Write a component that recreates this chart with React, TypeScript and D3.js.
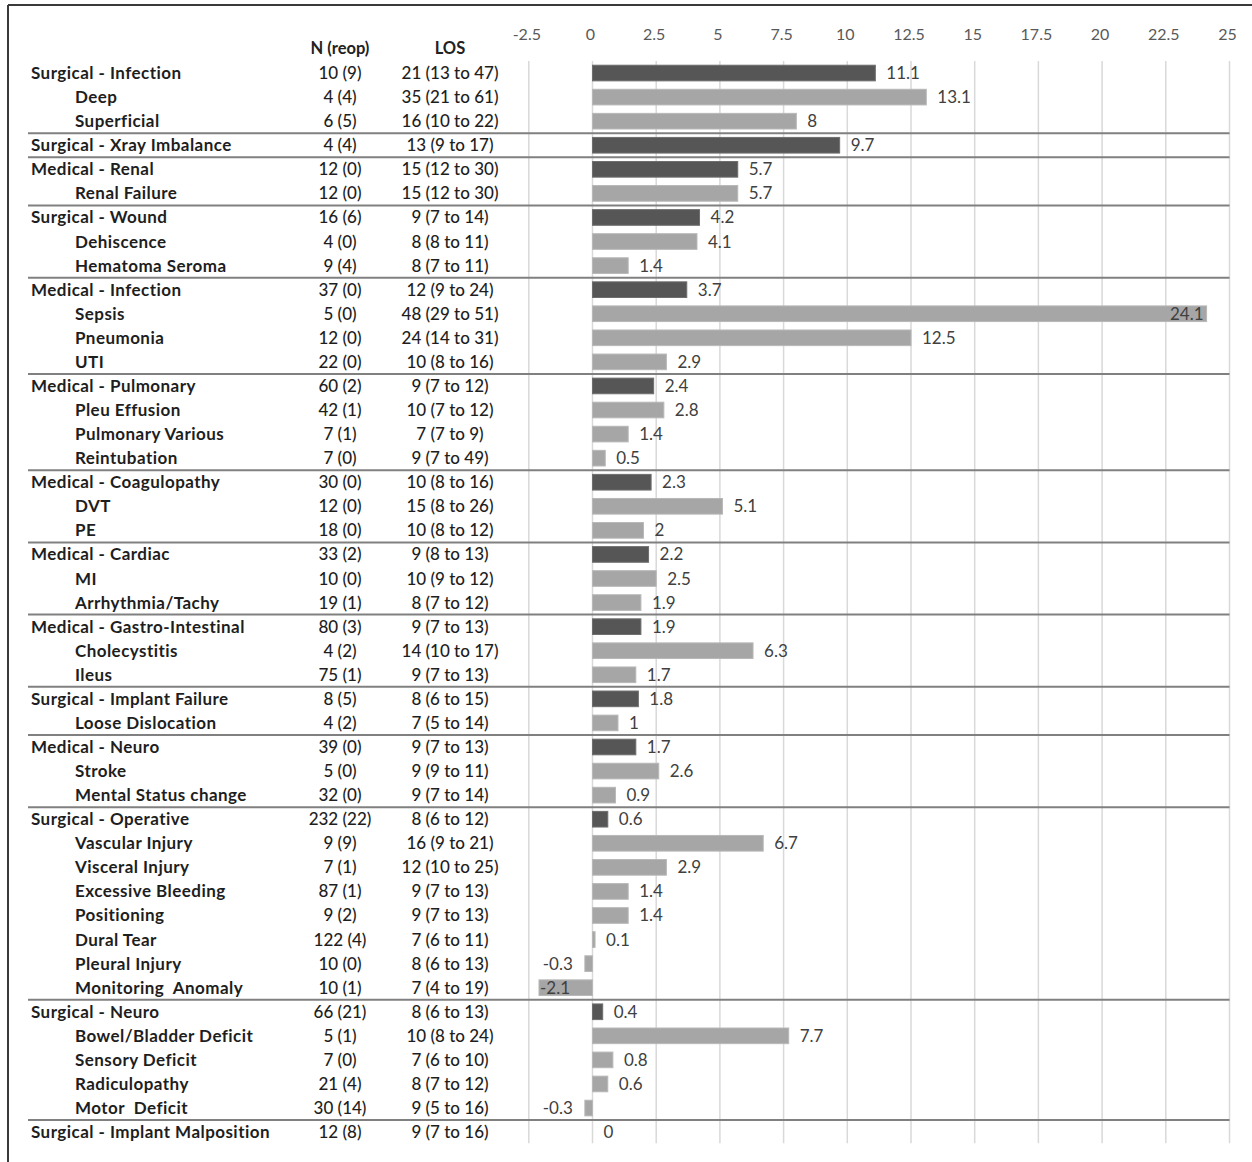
import * as d3 from "d3";

const rowLabels = [
  "Surgical - Infection", "Deep", "Superficial",
  "Surgical - Xray Imbalance",
  "Medical - Renal", "Renal Failure",
  "Surgical - Wound", "Dehiscence", "Hematoma Seroma",
  "Medical - Infection", "Sepsis", "Pneumonia", "UTI",
  "Medical - Pulmonary", "Pleu Effusion", "Pulmonary Various", "Reintubation",
  "Medical - Coagulopathy", "DVT", "PE",
  "Medical - Cardiac", "MI", "Arrhythmia/Tachy",
  "Medical - Gastro-Intestinal", "Cholecystitis", "Ileus",
  "Surgical - Implant Failure", "Loose Dislocation",
  "Medical - Neuro", "Stroke", "Mental Status change",
  "Surgical - Operative", "Vascular Injury", "Visceral Injury", "Excessive Bleeding",
  "Positioning", "Dural Tear", "Pleural Injury", "Monitoring  Anomaly",
  "Surgical - Neuro", "Bowel/Bladder Deficit", "Sensory Deficit", "Radiculopathy", "Motor  Deficit",
  "Surgical - Implant Malposition",
];

// 0 = complication group, 1 = sub-type
const rowLevels = [
  0, 1, 1,
  0,
  0, 1,
  0, 1, 1,
  0, 1, 1, 1,
  0, 1, 1, 1,
  0, 1, 1,
  0, 1, 1,
  0, 1, 1,
  0, 1,
  0, 1, 1,
  0, 1, 1, 1, 1, 1, 1, 1,
  0, 1, 1, 1, 1,
  0,
];

const nReop = [
  "10 (9)", "4 (4)", "6 (5)",
  "4 (4)",
  "12 (0)", "12 (0)",
  "16 (6)", "4 (0)", "9 (4)",
  "37 (0)", "5 (0)", "12 (0)", "22 (0)",
  "60 (2)", "42 (1)", "7 (1)", "7 (0)",
  "30 (0)", "12 (0)", "18 (0)",
  "33 (2)", "10 (0)", "19 (1)",
  "80 (3)", "4 (2)", "75 (1)",
  "8 (5)", "4 (2)",
  "39 (0)", "5 (0)", "32 (0)",
  "232 (22)", "9 (9)", "7 (1)", "87 (1)", "9 (2)", "122 (4)", "10 (0)", "10 (1)",
  "66 (21)", "5 (1)", "7 (0)", "21 (4)", "30 (14)",
  "12 (8)",
];

const losText = [
  "21 (13 to 47)", "35 (21 to 61)", "16 (10 to 22)",
  "13 (9 to 17)",
  "15 (12 to 30)", "15 (12 to 30)",
  "9 (7 to 14)", "8 (8 to 11)", "8 (7 to 11)",
  "12 (9 to 24)", "48 (29 to 51)", "24 (14 to 31)", "10 (8 to 16)",
  "9 (7 to 12)", "10 (7 to 12)", "7 (7 to 9)", "9 (7 to 49)",
  "10 (8 to 16)", "15 (8 to 26)", "10 (8 to 12)",
  "9 (8 to 13)", "10 (9 to 12)", "8 (7 to 12)",
  "9 (7 to 13)", "14 (10 to 17)", "9 (7 to 13)",
  "8 (6 to 15)", "7 (5 to 14)",
  "9 (7 to 13)", "9 (9 to 11)", "9 (7 to 14)",
  "8 (6 to 12)", "16 (9 to 21)", "12 (10 to 25)", "9 (7 to 13)", "9 (7 to 13)",
  "7 (6 to 11)", "8 (6 to 13)", "7 (4 to 19)",
  "8 (6 to 13)", "10 (8 to 24)", "7 (6 to 10)", "8 (7 to 12)", "9 (5 to 16)",
  "9 (7 to 16)",
];

// excess length of stay (days)
const excessLOS = [
  11.1, 13.1, 8,
  9.7,
  5.7, 5.7,
  4.2, 4.1, 1.4,
  3.7, 24.1, 12.5, 2.9,
  2.4, 2.8, 1.4, 0.5,
  2.3, 5.1, 2,
  2.2, 2.5, 1.9,
  1.9, 6.3, 1.7,
  1.8, 1,
  1.7, 2.6, 0.9,
  0.6, 6.7, 2.9, 1.4, 1.4, 0.1, -0.3, -2.1,
  0.4, 7.7, 0.8, 0.6, -0.3,
  0,
];

const tickValues = [-2.5, 0, 2.5, 5, 7.5, 10, 12.5, 15, 17.5, 20, 22.5, 25];

const W = 1252;
const H = 1162;
const FONT = "Lato, 'Open Sans', sans-serif";

export default function App() {
  const x = d3.scaleLinear().domain([0, 25]).range([592.5, 1229.5]);
  const idx = d3.range(rowLabels.length);
  const y = d3
    .scaleBand<number>()
    .domain(idx)
    .range([61, 61 + rowLabels.length * 24.07])
    .paddingInner(0.35)
    .paddingOuter(0.175);
  const step = y.step();
  const rowTop = (i: number) => 61 + i * step;
  const mid = (i: number) => rowTop(i) + step / 2;
  const gridTop = 61;
  const gridBottom = rowTop(rowLabels.length) - 1;

  const fmt = (v: number) => String(v);

  return (
    <svg
      width={W}
      height={H}
      style={{ position: "absolute", left: 0, top: 0, background: "#fff" }}
      fontFamily={FONT}
    >
      <rect x={0} y={0} width={W} height={H} fill="#fff" />
      {/* frame (cropped scan) */}
      <line x1={8} x2={W} y1={5} y2={5} stroke="#3a3a3a" strokeWidth={2} />
      <line x1={8} x2={8} y1={5} y2={H} stroke="#3a3a3a" strokeWidth={2} />

      {/* gridlines */}
      {tickValues.map((t) => (
        <line
          key={"g" + t}
          x1={x(t)}
          x2={x(t)}
          y1={gridTop}
          y2={gridBottom}
          stroke="#d9d9d9"
          strokeWidth={1.5}
        />
      ))}

      {/* tick labels */}
      {tickValues.map((t) => (
        <text
          key={"t" + t}
          x={x(t) - 2}
          y={40}
          textAnchor="middle"
          fontSize={16}
          fill="#595959"
        >
          {fmt(t)}
        </text>
      ))}

      {/* column headers */}
      <text x={340} y={54} textAnchor="middle" fontSize={16.5} fontWeight={700} fill="#222">
        N (reop)
      </text>
      <text x={450} y={54} textAnchor="middle" fontSize={16.5} fontWeight={700} fill="#222">
        LOS
      </text>

      {/* group separators */}
      {idx
        .filter((i) => i > 0 && rowLevels[i] === 0)
        .map((i) => (
          <line
            key={"s" + i}
            x1={28}
            x2={x(25)}
            y1={rowTop(i)}
            y2={rowTop(i)}
            stroke="#808080"
            strokeWidth={2}
          />
        ))}

      {/* table text */}
      {idx.map((i) => (
        <g key={"r" + i} fill="#1e1e1e">
          <text
            x={rowLevels[i] === 0 ? 31 : 75}
            y={mid(i) + 6}
            fontSize={17}
            fontWeight={700}
            letterSpacing={0.45}
            style={{ whiteSpace: "pre" }}
          >
            {rowLabels[i]}
          </text>
          <text x={340} y={mid(i) + 6} textAnchor="middle" fontSize={17} fontWeight={500}>
            {nReop[i]}
          </text>
          <text x={450} y={mid(i) + 6} textAnchor="middle" fontSize={17} fontWeight={500}>
            {losText[i]}
          </text>
        </g>
      ))}

      {/* bars */}
      {idx.map((i) => {
        const v = excessLOS[i];
        const x0 = x(Math.min(0, v));
        const x1 = x(Math.max(0, v));
        const dark = rowLevels[i] === 0;
        return (
          <rect
            key={"b" + i}
            x={x0}
            y={y(i)}
            width={Math.max(0, x1 - x0)}
            height={y.bandwidth()}
            fill={dark ? "#565656" : "#a6a6a6"}
            stroke={dark ? "#6e6e6e" : "#b8b8b8"}
            strokeWidth={v === 0 ? 0 : 1}
          />
        );
      })}

      {/* value labels */}
      {idx.map((i) => {
        const v = excessLOS[i];
        const end = x(v);
        let tx = end + 11;
        let anchor: "start" | "end" = "start";
        if (v < 0) {
          tx = end - 12;
          anchor = "end";
          if (tx - 28 < x(-2.5)) {
            tx = end + 1;
            anchor = "start";
          }
        } else if (end + 11 + 32 > x(25) + 10) {
          tx = end - 3;
          anchor = "end";
        }
        return (
          <text
            key={"v" + i}
            x={tx}
            y={mid(i) + 6}
            textAnchor={anchor}
            fontSize={17}
            fill="#404040"
          >
            {fmt(v)}
          </text>
        );
      })}
    </svg>
  );
}
